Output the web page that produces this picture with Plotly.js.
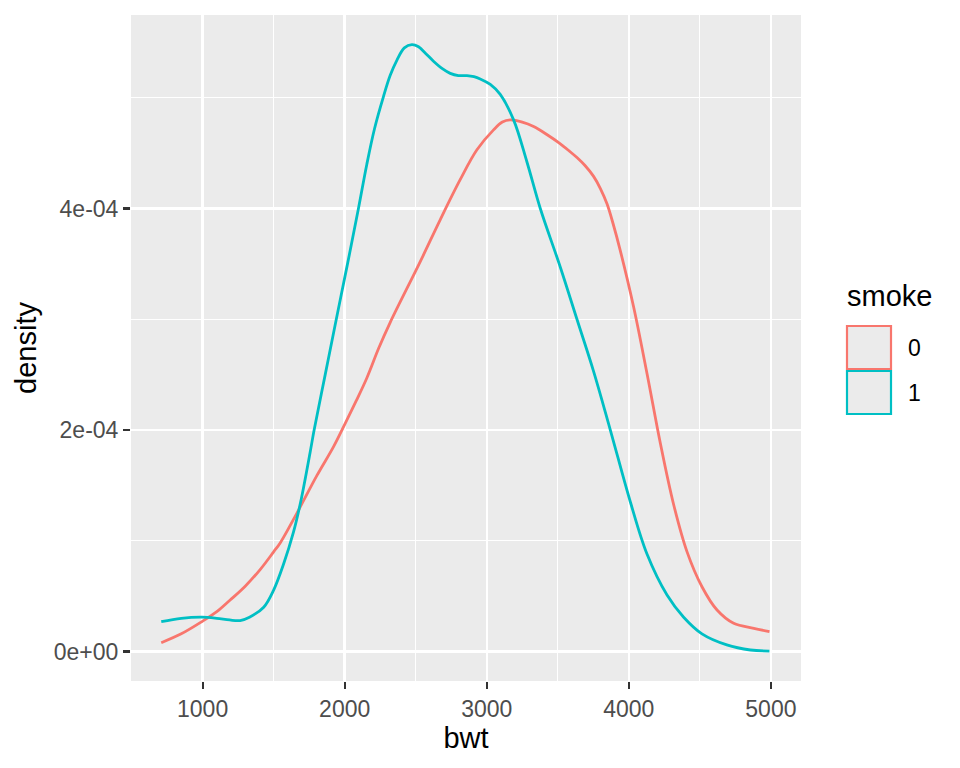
<!DOCTYPE html>
<html>
<head>
<meta charset="utf-8">
<script src="https://cdn.plot.ly/plotly-3.0.1.min.js"></script>
<style>html,body{margin:0;padding:0;background:#fff;}#chart{width:960px;height:768px;}</style>
</head>
<body>
<div id="chart"></div>
<script>
// ---- data (density in units of 1e-4) ----
const groups = ["0", "1"];
const bwt0 = [709, 850, 995, 1100, 1194, 1300, 1405, 1500, 1546, 1664, 1805, 1922, 2004, 2080, 2156, 2240, 2320, 2532, 2673, 2813, 2931, 3048, 3110, 3165, 3250, 3330, 3420, 3511, 3580, 3635, 3690, 3752, 3800, 3847, 3890, 3940, 4034, 4128, 4222, 4315, 4410, 4515, 4621, 4738, 4880, 4990];
const dens0 = [0.08, 0.16, 0.27, 0.36, 0.465, 0.59, 0.74, 0.90, 0.98, 1.25, 1.59, 1.85, 2.06, 2.26, 2.47, 2.74, 2.97, 3.52, 3.90, 4.26, 4.53, 4.71, 4.78, 4.80, 4.78, 4.74, 4.67, 4.59, 4.52, 4.46, 4.39, 4.29, 4.18, 4.04, 3.86, 3.62, 3.11, 2.51, 1.88, 1.33, 0.90, 0.585, 0.375, 0.255, 0.21, 0.18];
const bwt1 = [709, 850, 995, 1100, 1190, 1264, 1330, 1430, 1500, 1570, 1640, 1690, 1757, 1785, 1863, 1941, 2020, 2097, 2156, 2210, 2273, 2320, 2368, 2420, 2473, 2520, 2570, 2625, 2690, 2743, 2800, 2861, 2910, 2954, 3025, 3095, 3189, 3283, 3377, 3518, 3635, 3752, 3870, 4011, 4128, 4269, 4386, 4515, 4690, 4856, 4990];
const dens1 = [0.27, 0.30, 0.31, 0.30, 0.285, 0.28, 0.31, 0.40, 0.555, 0.79, 1.08, 1.35, 1.80, 2.0, 2.5, 3.0, 3.5, 4.0, 4.40, 4.72, 5.01, 5.20, 5.34, 5.45, 5.48, 5.46, 5.40, 5.33, 5.26, 5.22, 5.20, 5.20, 5.19, 5.17, 5.12, 5.03, 4.80, 4.42, 4.0, 3.47, 3.0, 2.53, 2.0, 1.35, 0.88, 0.51, 0.31, 0.16, 0.06, 0.014, 0.004];
const xTicks = [1000, 2000, 3000, 4000, 5000];
const yTickVals = [0, 2e-4, 4e-4];
const yTickText = ["0e+00", "2e-04", "4e-04"];
const colors = ["#F8766D", "#00BFC4"];

const scale = 1e-4;
const traces = [
  {x: bwt0, y: dens0.map(v => v * scale), name: groups[0]},
  {x: bwt1, y: dens1.map(v => v * scale), name: groups[1]}
].map((t, i) => Object.assign(t, {
  type: "scatter", mode: "lines",
  line: {color: colors[i], width: 2.8, shape: "spline", smoothing: 1},
  showlegend: false, hoverinfo: "x+y"
}));

// panel geometry in pixels
const L = 131, R = 801, T = 15, B = 681, W = 960, H = 768;
const px = v => (v - L) / (R - L);
const py = v => (B - v) / (B - T);

const shapes = [];
const annotations = [];
// legend
annotations.push({xref: "paper", yref: "paper", x: px(845), y: py(296), xanchor: "left", yanchor: "middle",
  text: "smoke", showarrow: false, font: {family: "Liberation Sans, Arial, sans-serif", size: 29, color: "#000"}});
groups.forEach((g, i) => {
  const top = 326 + i * 45;
  shapes.push({type: "rect", xref: "paper", yref: "paper", x0: px(847), x1: px(891), y0: py(top), y1: py(top + 43),
    fillcolor: "#EBEBEB", line: {color: colors[i], width: 2.2}});
  annotations.push({xref: "paper", yref: "paper", x: px(906), y: py(top + 22), xanchor: "left", yanchor: "middle",
    text: g, showarrow: false, font: {family: "Liberation Sans, Arial, sans-serif", size: 23, color: "#000"}});
});

const layout = {
  width: W, height: H,
  margin: {l: L, r: W - R, t: T, b: H - B, pad: 0},
  paper_bgcolor: "#FFFFFF", plot_bgcolor: "#EBEBEB",
  font: {family: "Liberation Sans, Arial, sans-serif"},
  showlegend: false,
  xaxis: {
    range: [496, 5212], tickmode: "array", tickvals: xTicks,
    ticks: "outside", ticklen: 7, tickwidth: 2.2, tickcolor: "#333333",
    tickfont: {size: 23, color: "#4D4D4D"},
    showgrid: true, gridcolor: "#FFFFFF", gridwidth: 2.4, zeroline: false, showline: false,
    minor: {tickmode: "array", tickvals: [500, 1500, 2500, 3500, 4500], showgrid: true, gridcolor: "#FFFFFF", gridwidth: 1.2, ticks: ""},
    title: {text: "bwt", font: {size: 29, color: "#000"}, standoff: 4}
  },
  yaxis: {
    range: [-0.266e-4, 5.747e-4], tickmode: "array", tickvals: yTickVals, ticktext: yTickText,
    ticks: "outside", ticklen: 7, tickwidth: 2.2, tickcolor: "#333333",
    tickfont: {size: 23, color: "#4D4D4D"},
    showgrid: true, gridcolor: "#FFFFFF", gridwidth: 2.4, zeroline: false, showline: false,
    minor: {tickmode: "array", tickvals: [1e-4, 3e-4, 5e-4], showgrid: true, gridcolor: "#FFFFFF", gridwidth: 1.2, ticks: ""},
    title: {text: "density", font: {size: 29, color: "#000"}, standoff: 8}
  },
  shapes: shapes,
  annotations: annotations
};

Plotly.newPlot("chart", traces, layout, {displayModeBar: false, staticPlot: true});
</script>
</body>
</html>
